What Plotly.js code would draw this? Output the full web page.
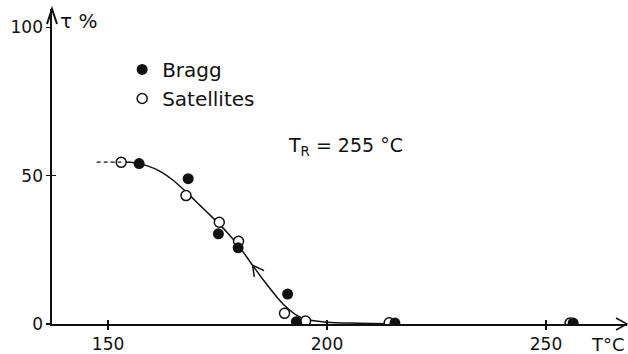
<!DOCTYPE html>
<html>
<head>
<meta charset="utf-8">
<script src="https://cdn.plot.ly/plotly-3.0.1.min.js"></script>
<style>
  html, body { margin: 0; padding: 0; background: #fff; }
  #chart { width: 628px; height: 354px; }
</style>
</head>
<body>
<div id="chart"></div>
<script>
// Transmission tau (%) versus temperature T (°C)
const braggT   = [157.1, 168.3, 175.2, 179.7, 191.0, 193.0, 215.5, 256.2];
const braggTau = [54.1, 49.0, 30.4, 25.7, 10.1, 0.8, 0.3, 0.3];
const satT     = [153.0, 167.8, 175.4, 179.8, 190.3, 195.1, 214.2, 255.5];
const satTau   = [54.5, 43.3, 34.3, 27.9, 3.6, 1.0, 0.4, 0.3];

// hand-drawn guide curve through the points
const fitT   = [153, 156, 159, 162, 165, 168, 171, 174, 177, 180, 183, 186, 189, 191, 193, 195, 197, 200, 205, 210, 215];
const fitTau = [54.6, 54.4, 53.3, 51.4, 48.3, 44.3, 40.0, 35.7, 31.2, 26.0, 19.8, 13.8, 8.3, 5.3, 3.0, 1.7, 1.1, 0.6, 0.3, 0.2, 0.1];

// dashed lead-in on the left
const leadT   = [147.4, 153.0];
const leadTau = [54.6, 54.6];

const xTicks = [150, 200, 250];
const yTicks = [0, 50, 100];

const FONT = 'DejaVu Sans, sans-serif';
const INK = '#111';
const xRange = [137.2, 268.5];
const yRange = [0, 106.2];

const W = 628, H = 354;
const M = { l: 52, r: 1, t: 9, b: 30 };
const plotW = W - M.l - M.r, plotH = H - M.t - M.b;

const traces = [
  { x: leadT, y: leadTau, xaxis: 'x2', yaxis: 'y2', mode: 'lines',
    line: { color: INK, width: 1.3, dash: '4px,3px' }, showlegend: false, hoverinfo: 'skip' },
  { x: fitT, y: fitTau, mode: 'lines',
    line: { color: INK, width: 1.5, shape: 'spline', smoothing: 0.6 }, showlegend: false, hoverinfo: 'skip' },
  { x: satT, y: satTau, mode: 'markers', name: 'Satellites', legendrank: 2,
    marker: { symbol: 'circle', size: 10, color: '#fff', line: { color: INK, width: 1.5 } } },
  { x: braggT, y: braggTau, mode: 'markers', name: 'Bragg', legendrank: 1,
    marker: { symbol: 'circle', size: 11, color: INK, line: { color: INK, width: 0 } } }
];

// open V head at a paper-space tip; arm offsets given in pixels (y up)
function axisHead(px, py, arms, width) {
  const p = (dx, dy) => (px + dx / plotW).toFixed(5) + ',' + (py + dy / plotH).toFixed(5);
  return {
    type: 'path', xref: 'paper', yref: 'paper',
    path: 'M' + p(arms[0][0], arms[0][1]) + 'L' + p(0, 0) + 'L' + p(arms[1][0], arms[1][1]),
    line: { color: INK, width: width }, layer: 'above'
  };
}

const shapes = [
  axisHead(1, 0, [[-11, 6], [-11, -6]], 1.6),    // end of the T axis
  axisHead(0, 1, [[-5, -15], [5, -15]], 2)       // end of the tau axis
];

const annotations = [
  { x: 0.01, y: 1.0, xref: 'paper', yref: 'paper', xanchor: 'left', yanchor: 'top',
    yshift: 2, text: 'τ %', showarrow: false, font: { family: FONT, size: 20, color: INK } },
  { x: 1.0, y: 0, xref: 'paper', yref: 'paper', xanchor: 'right', yanchor: 'top',
    yshift: -8, text: 'T°C', showarrow: false, font: { family: FONT, size: 18, color: INK } },
  { x: 0.407, y: 0.565, xref: 'paper', yref: 'paper', xanchor: 'left', yanchor: 'middle',
    text: 'T<sub>R</sub> = 255 °C', showarrow: false, font: { family: FONT, size: 19, color: INK } }
].concat([[2, 13], [13, 6]].map(a => ({
  // direction arrow on the curve, two strokes meeting at the curve
  x: fitT[10], y: fitTau[10], xref: 'x', yref: 'y', ax: a[0], ay: a[1],
  text: '', showarrow: true, arrowhead: 0, arrowwidth: 1.5, arrowcolor: INK,
  standoff: 0, startstandoff: 0
})));

const axisCommon = {
  showgrid: false, zeroline: false, fixedrange: true,
  tickfont: { family: FONT, size: 17, color: INK }
};

const layout = {
  width: W, height: H,
  margin: M,
  paper_bgcolor: '#fff', plot_bgcolor: '#fff',
  showlegend: true,
  legend: { x: 0.122, y: 0.87, xanchor: 'left', yanchor: 'top',
            font: { family: FONT, size: 20, color: INK }, bgcolor: 'rgba(0,0,0,0)' },
  xaxis: Object.assign({}, axisCommon, {
    range: xRange, tickvals: xTicks, ticktext: xTicks.map(String),
    ticks: 'outside', ticklen: 4, tickwidth: 1.3, tickcolor: INK,
    showline: true, linecolor: INK, linewidth: 1.6
  }),
  yaxis: Object.assign({}, axisCommon, {
    range: yRange, tickvals: yTicks, ticktext: yTicks.map(String),
    ticks: 'outside', ticklen: 4, tickwidth: 1.3, tickcolor: INK,
    showline: true, linecolor: INK, linewidth: 1.6
  }),
  // companion axes give the ticks their inner half, so each tick crosses the axis line
  xaxis2: { overlaying: 'x', anchor: 'y', side: 'bottom', range: xRange, tickvals: xTicks,
    ticks: 'inside', ticklen: 4, tickwidth: 1.3, tickcolor: INK,
    showticklabels: false, showline: false, showgrid: false, zeroline: false, fixedrange: true },
  yaxis2: { overlaying: 'y', anchor: 'x', side: 'left', range: yRange, tickvals: [50],
    ticks: 'inside', ticklen: 4, tickwidth: 1.3, tickcolor: INK,
    showticklabels: false, showline: false, showgrid: false, zeroline: false, fixedrange: true },
  shapes: shapes,
  annotations: annotations
};

Plotly.newPlot('chart', traces, layout, { displayModeBar: false, staticPlot: true });
</script>
</body>
</html>
